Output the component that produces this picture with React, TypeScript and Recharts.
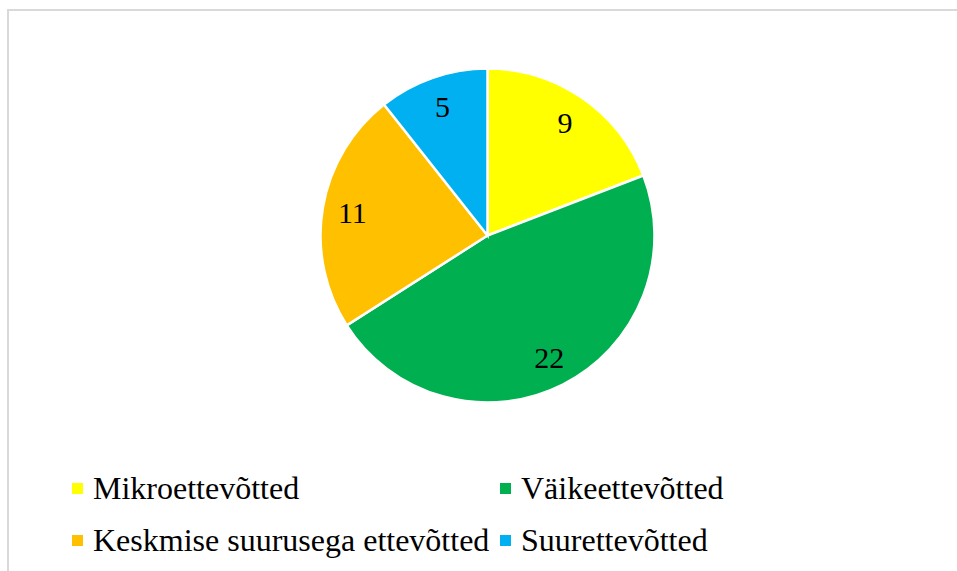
import React from "react";
import { PieChart, Pie, Cell, Legend } from "recharts";

const categories = ["Mikroettevõtted", "Väikeettevõtted", "Keskmise suurusega ettevõtted", "Suurettevõtted"];
const values = [9, 22, 11, 5];
const colors = ["#FFFF00", "#00B050", "#FFC000", "#00B0F0"];

const data = categories.map((name, i) => ({ name, value: values[i] }));

const RADIAN = Math.PI / 180;
const FONT = "'Liberation Serif', 'Times New Roman', serif";

const renderLabel = (props: any) => {
  const { cx, cy, midAngle, value } = props;
  const r = 137;
  const x = cx + r * Math.cos(-midAngle * RADIAN);
  const y = cy + r * Math.sin(-midAngle * RADIAN);
  return (
    <text x={x} y={y} fill="#000" textAnchor="middle" dominantBaseline="central" style={{ fontSize: 30, fontFamily: FONT }}>
      {value}
    </text>
  );
};

const legendPos = [
  { x: 72, y: 488 },
  { x: 500, y: 488 },
  { x: 72, y: 540 },
  { x: 500, y: 540 },
];

const renderLegend = (props: any) => {
  const payload = props.payload || [];
  return (
    <div style={{ position: "relative", width: 957, height: 571 }}>
      {payload.map((entry: any, k: number) => {
        const i = categories.indexOf(entry.value);
        const p = legendPos[i >= 0 ? i : k];
        return (
          <div key={k} style={{ position: "absolute", left: p.x, top: p.y - 20, height: 40, display: "flex", alignItems: "center", whiteSpace: "nowrap" }}>
            <span style={{ display: "inline-block", width: 11, height: 11, background: entry.color, marginRight: 10 }} />
            <span style={{ fontFamily: FONT, fontSize: 32, color: "#000", lineHeight: "40px" }}>{entry.value}</span>
          </div>
        );
      })}
    </div>
  );
};

export default function App() {
  return (
    <div style={{ position: "absolute", left: 0, top: 0, width: 957, height: 571, overflow: "hidden", background: "#fff" }}>
      <div style={{ position: "absolute", left: 7, top: 9, width: 1100, height: 700, border: "2px solid #d9d9d9", boxSizing: "border-box" }} />
      <div style={{ position: "absolute", left: 0, top: 0 }}>
        <PieChart width={957} height={571} margin={{ top: 0, right: 0, bottom: 0, left: 0 }}>
          <Pie
            data={data}
            dataKey="value"
            nameKey="name"
            cx={487.5}
            cy={235.5}
            outerRadius={167}
            startAngle={90}
            endAngle={-270}
            stroke="#fff"
            strokeWidth={2.5}
            label={renderLabel}
            labelLine={false}
            isAnimationActive={false}
          >
            {data.map((_, i) => (
              <Cell key={i} fill={colors[i]} />
            ))}
          </Pie>
          <Legend content={renderLegend} itemSorter={null as any} wrapperStyle={{ position: "absolute", left: 0, top: 0, width: 957, height: 571 }} />
        </PieChart>
      </div>
    </div>
  );
}
